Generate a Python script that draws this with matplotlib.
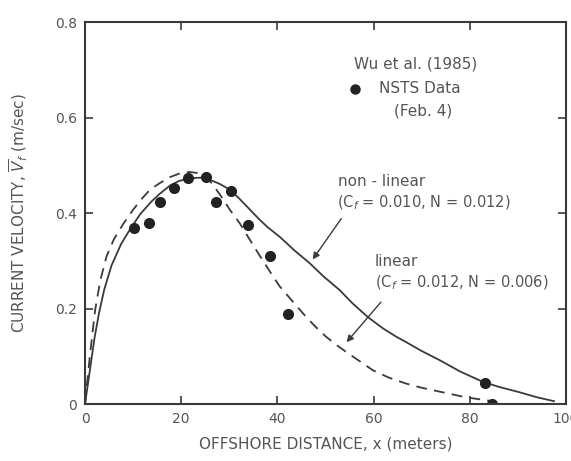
import matplotlib
matplotlib.use("Agg")
import matplotlib.pyplot as plt

# NSTS data points (Wu et al., 1985)
obs_x = [10.2, 13.2, 15.6, 18.5, 21.4, 25.1, 27.3, 30.3, 33.9, 38.4, 42.1, 83.2, 84.6]
obs_y = [0.368, 0.379, 0.424, 0.452, 0.473, 0.475, 0.423, 0.447, 0.375, 0.309, 0.188, 0.043, 0.0]

# non-linear model (solid)
nl_x = [0, 1, 2, 2.9, 4, 5.5, 7.5, 9.3, 11.5, 13.8, 15.5, 17.6, 19.5, 21.8, 24.0, 25.9,
        28.0, 30.1, 32.0, 34.2, 36.3, 38.0, 40.5, 43.5, 46.7, 49.5, 52.9, 55.5, 58.8,
        62.0, 64.7, 66.7, 70.0, 73.7, 78.0, 82.6, 86.0, 90.2, 94.0, 97.5]
nl_y = [0, 0.070, 0.140, 0.190, 0.240, 0.290, 0.335, 0.365, 0.398, 0.424, 0.440, 0.457,
        0.467, 0.473, 0.474, 0.470, 0.461, 0.449, 0.431, 0.408, 0.386, 0.370, 0.350,
        0.322, 0.295, 0.268, 0.239, 0.212, 0.182, 0.158, 0.141, 0.130, 0.111, 0.092,
        0.068, 0.047, 0.036, 0.025, 0.014, 0.006]

# linear model (dashed)
lin_x = [0, 1, 2.1, 3.2, 4.5, 6.0, 8.0, 10.0, 12.0, 13.5, 15.6, 17.6, 19.7, 21.8, 23.9,
         25.3, 26.6, 28.3, 30.1, 32.2, 34.2, 36.3, 38.4, 40.5, 42.9, 45.3, 47.7, 50.1,
         52.5, 55.0, 57.5, 59.8, 63.0, 66.7, 70.0, 73.7, 79.2, 84.7]
lin_y = [0, 0.100, 0.197, 0.260, 0.310, 0.345, 0.378, 0.407, 0.432, 0.449, 0.463, 0.475,
         0.483, 0.486, 0.483, 0.475, 0.459, 0.435, 0.407, 0.378, 0.345, 0.311, 0.278,
         0.246, 0.218, 0.190, 0.164, 0.141, 0.122, 0.104, 0.087, 0.071, 0.056, 0.043,
         0.034, 0.026, 0.014, 0.006]

x_ticks = [0, 20, 40, 60, 80, 100]
y_ticks = [0, 0.2, 0.4, 0.6, 0.8]
y_labels = ["0", "0.2", "0.4", "0.6", "0.8"]

ink = "#3a3a3a"
txt = "#555555"

fig = plt.figure(figsize=(5.71, 4.61), dpi=100)
ax = fig.add_axes([0.1489, 0.1236, 0.8424, 0.8286])

ax.plot(nl_x, nl_y, color=ink, lw=1.3)
ax.plot(lin_x, lin_y, color=ink, lw=1.3, ls=(0, (6, 4)))
ax.plot(obs_x, obs_y, "o", color="#222222", ms=7, clip_on=True)

ax.set_xlim(0, 100)
ax.set_ylim(0, 0.8)
ax.set_xticks(x_ticks)
ax.set_yticks(y_ticks)
ax.set_yticklabels(y_labels)
ax.tick_params(direction="in", length=6, width=1.2, colors=ink, labelcolor=txt,
               labelsize=10, top=True, right=True, pad=6)
for s in ax.spines.values():
    s.set_color(ink)
    s.set_linewidth(1.5)

ax.set_xlabel("OFFSHORE DISTANCE, x (meters)", fontsize=11, color=txt, labelpad=7)
ax.set_ylabel(r"CURRENT VELOCITY, $\overline{V}_f$ (m/sec)", fontsize=11, color=txt,
              labelpad=18)

# legend-like text block
ax.text(68.7, 0.713, "Wu et al. (1985)", fontsize=11, color=txt, ha="center", va="center")
ax.plot([56.2], [0.66], "o", color="#222222", ms=6.5)
ax.text(61.2, 0.66, "NSTS Data", fontsize=11, color=txt, ha="left", va="center")
ax.text(64.3, 0.613, "(Feb. 4)", fontsize=11, color=txt, ha="left", va="center")

ax.text(52.5, 0.466, "non - linear", fontsize=11, color=txt, ha="left", va="center")
ax.text(52.3, 0.421, r"(C$_f$ = 0.010, N = 0.012)", fontsize=10.5, color=txt,
        ha="left", va="center")
ax.annotate("", xy=(47.0, 0.298), xytext=(53.6, 0.393),
            arrowprops=dict(arrowstyle="-|>", color=ink, lw=1.0, mutation_scale=10))

ax.text(60.2, 0.298, "linear", fontsize=11, color=txt, ha="left", va="center")
ax.text(60.2, 0.253, r"(C$_f$ = 0.012, N = 0.006)", fontsize=10.5, color=txt,
        ha="left", va="center")
ax.annotate("", xy=(54.0, 0.125), xytext=(61.9, 0.218),
            arrowprops=dict(arrowstyle="-|>", color=ink, lw=1.0, mutation_scale=10))

fig.savefig("out.png", dpi=100)
